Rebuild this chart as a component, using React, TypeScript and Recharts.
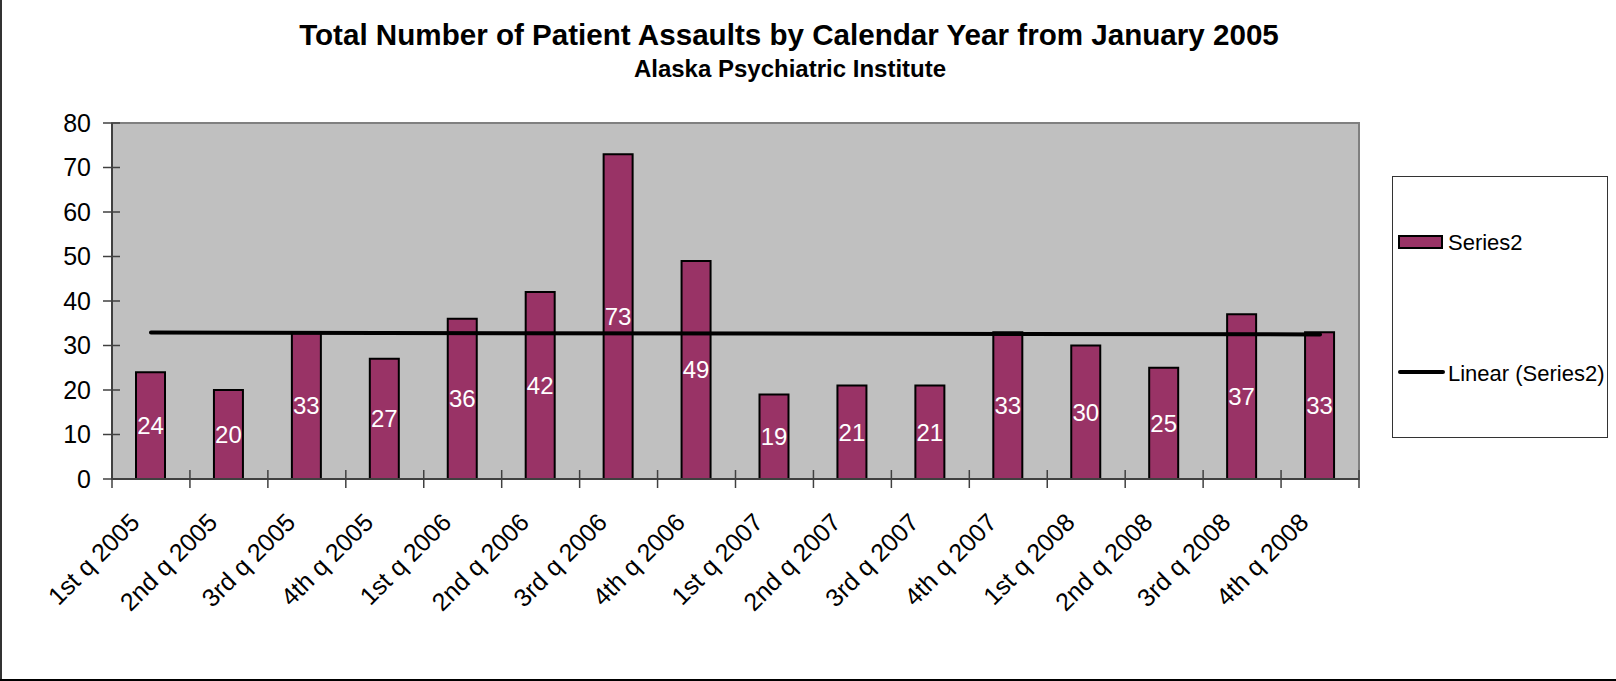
import {
  ComposedChart,
  Bar,
  Line,
  XAxis,
  YAxis,
  LabelList,
  Legend,
  ReferenceArea,
} from 'recharts'

// Quarterly assault counts, Alaska Psychiatric Institute
const quarters = [
  '1st q 2005', '2nd q 2005', '3rd q 2005', '4th q 2005',
  '1st q 2006', '2nd q 2006', '3rd q 2006', '4th q 2006',
  '1st q 2007', '2nd q 2007', '3rd q 2007', '4th q 2007',
  '1st q 2008', '2nd q 2008', '3rd q 2008', '4th q 2008',
]
const assaults = [24, 20, 33, 27, 36, 42, 73, 49, 19, 21, 21, 33, 30, 25, 37, 33]
// linear trendline end values
const trendStart = 32.9
const trendEnd = 32.5
const yTicks = [0, 10, 20, 30, 40, 50, 60, 70, 80]

const chartData = quarters.map((q, i) => ({
  quarter: q,
  assaults: assaults[i],
  trend: i === 0 ? trendStart : i === quarters.length - 1 ? trendEnd : null,
}))

const W = 1616
const H = 681
const margin = { top: 123, right: 257, bottom: 0, left: 0 }
const yAxisWidth = 112
const xAxisHeight = 202
const band = (W - yAxisWidth - margin.right) / quarters.length
const font = 'Arial, "Liberation Sans", sans-serif'
const axisColor = '#404040'

// Excel style "cross" tick marks between categories, label rotated 45deg
// eslint-disable-next-line @typescript-eslint/no-explicit-any
const XTick = ({ x, y, payload, index }: any) => (
  <g>
    <line x1={x - band / 2} x2={x - band / 2} y1={y - 9} y2={y + 9} stroke={axisColor} strokeWidth={1.5} />
    {index === quarters.length - 1 && (
      <line x1={x + band / 2} x2={x + band / 2} y1={y - 9} y2={y + 9} stroke={axisColor} strokeWidth={1.5} />
    )}
    <text
      transform={`translate(${x - 10},${y + 45}) rotate(-45)`}
      textAnchor="end"
      fontSize={25}
      fontFamily={font}
      fill="#000"
    >
      {payload.value}
    </text>
  </g>
)

// eslint-disable-next-line @typescript-eslint/no-explicit-any
const YTick = ({ x, y, payload }: any) => (
  <g>
    <line x1={x - 9} x2={x + 8} y1={y} y2={y} stroke={axisColor} strokeWidth={1.5} />
    <text x={x - 21} y={y} dy="0.35em" textAnchor="end" fontSize={25} fontFamily={font} fill="#000">
      {payload.value}
    </text>
  </g>
)

const renderLegend = () => (
  <svg width={216} height={262} style={{ display: 'block' }}>
    <rect x={0.5} y={0.5} width={215} height={261} fill="#fff" stroke="#333" strokeWidth={1} />
    <rect x={7} y={60} width={43} height={12} fill="#993366" stroke="#000" strokeWidth={2} />
    <text x={56} y={74} fontSize={22} fontFamily={font} fill="#000">Series2</text>
    <line x1={8} x2={51} y1={196} y2={196} stroke="#000" strokeWidth={4} strokeLinecap="round" />
    <text x={56} y={205} fontSize={22} fontFamily={font} fill="#000">Linear (Series2)</text>
  </svg>
)

export default function App() {
  return (
    <div style={{ position: 'relative', width: W, height: H, background: '#fff', fontFamily: font }}>
      <style>{'body{margin:0}'}</style>
      <div
        style={{
          position: 'absolute', left: 0, width: 1578, top: 20, textAlign: 'center',
          fontSize: 29.6, lineHeight: '29px', fontWeight: 'bold', color: '#000',
        }}
      >
        Total Number of Patient Assaults by Calendar Year from January 2005
      </div>
      <div
        style={{
          position: 'absolute', left: 0, width: 1580, top: 57, textAlign: 'center',
          fontSize: 24, lineHeight: '24px', fontWeight: 'bold', color: '#000',
        }}
      >
        Alaska Psychiatric Institute
      </div>
      <div style={{ position: 'absolute', left: 0, top: 0 }}>
        <ComposedChart width={W} height={H} data={chartData} margin={margin}>
          <ReferenceArea y1={0} y2={80} fill="#C0C0C0" fillOpacity={1} stroke="#808080" strokeWidth={2} />
          <XAxis
            dataKey="quarter"
            height={xAxisHeight}
            interval={0}
            tickSize={0}
            tickMargin={0}
            tickLine={false}
            tick={<XTick />}
            axisLine={{ stroke: axisColor, strokeWidth: 2 }}
          />
          <YAxis
            width={yAxisWidth}
            domain={[0, 80]}
            ticks={yTicks}
            interval={0}
            tickSize={0}
            tickMargin={0}
            tickLine={false}
            tick={<YTick />}
            axisLine={{ stroke: axisColor, strokeWidth: 2 }}
          />
          <Legend
            layout="vertical"
            align="center"
            verticalAlign="middle"
            content={renderLegend}
            wrapperStyle={{ position: 'absolute', left: 1392, top: 176, width: 216, height: 262 }}
          />
          <Bar
            dataKey="assaults"
            name="Series2"
            fill="#993366"
            stroke="#000"
            strokeWidth={2}
            barSize={29}
            isAnimationActive={false}
          >
            <LabelList dataKey="assaults" position="center" fill="#fff" fontSize={24} fontFamily={font} />
          </Bar>
          <Line
            dataKey="trend"
            name="Linear (Series2)"
            stroke="#000"
            strokeWidth={4}
            strokeLinecap="round"
            dot={false}
            activeDot={false}
            connectNulls
            isAnimationActive={false}
          />
        </ComposedChart>
      </div>
      <div style={{ position: 'absolute', left: 0, top: 0, width: 2, height: H, background: '#333' }} />
      <div style={{ position: 'absolute', left: 0, top: H - 2, width: W, height: 2, background: '#000' }} />
    </div>
  )
}
